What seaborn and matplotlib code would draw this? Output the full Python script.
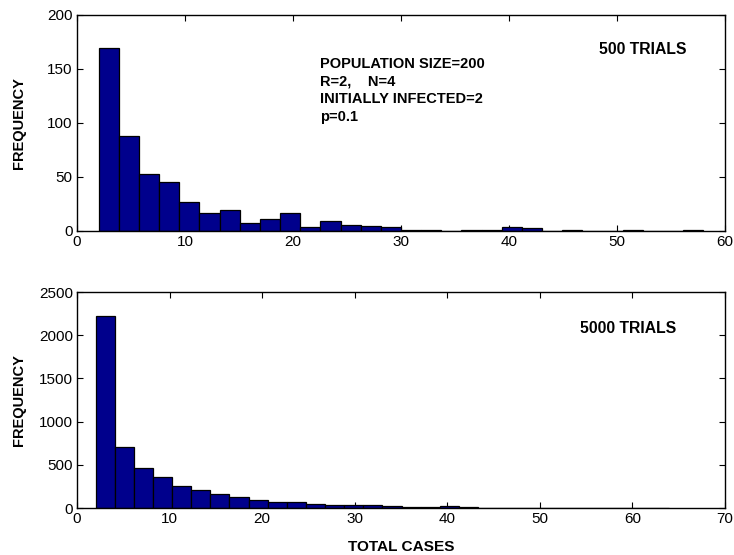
import numpy as np
import pandas as pd
import matplotlib
matplotlib.use("Agg")
import matplotlib.pyplot as plt
import seaborn as sns

# ---- data ----
top_counts = [169, 88, 53, 45, 27, 17, 19, 7, 11, 17, 4, 9, 6, 5, 4,
              1, 1, 0, 1, 1, 4, 3, 0, 1, 0, 0, 1, 0, 0, 1]
top_min_cases = 2
top_max_cases = 58

bottom_counts = [2226, 703, 460, 355, 251, 205, 158, 131, 97, 66, 64, 46, 38, 38, 40,
                 20, 8, 8, 20, 6, 3, 2, 1, 1, 1, 0, 1, 0, 0, 1]
bottom_min_cases = 2
bottom_max_cases = 64

top_xticks = [0, 10, 20, 30, 40, 50, 60]
top_yticks = [0, 50, 100, 150, 200]
bottom_xticks = [0, 10, 20, 30, 40, 50, 60, 70]
bottom_yticks = [0, 500, 1000, 1500, 2000, 2500]

top_label = "500 TRIALS"
bottom_label = "5000 TRIALS"
params_text = "POPULATION SIZE=200\nR=2,    N=4\nINITIALLY INFECTED=2\np=0.1"
ylabel = "FREQUENCY"
xlabel = "TOTAL CASES"

sns.set_style("ticks")
plt.rcParams["font.family"] = ["Liberation Sans", "DejaVu Sans"]
plt.rcParams["text.color"] = "black"
plt.rcParams["axes.labelcolor"] = "black"

BAR = "#00008C"

fig = plt.figure(figsize=(7.34, 5.55), dpi=100)
ax1 = fig.add_axes([77 / 734, 1 - 231 / 555, 648 / 734, 216 / 555])
ax2 = fig.add_axes([77 / 734, 1 - 508 / 555, 648 / 734, 216 / 555])


def draw(ax, counts, lo, hi, xticks, yticks):
    n = len(counts)
    edges = np.linspace(lo, hi, n + 1)
    centers = (edges[:-1] + edges[1:]) / 2
    df = pd.DataFrame({"cases": centers, "count": np.asarray(counts, dtype=float)})
    sns.histplot(data=df, x="cases", weights="count", bins=n, binrange=(lo, hi), ax=ax,
                 color=BAR, edgecolor="black", linewidth=0.9, alpha=1.0)
    ax.set_xlim(xticks[0], xticks[-1])
    ax.set_ylim(yticks[0], yticks[-1])
    ax.set_xticks(xticks)
    ax.set_yticks(yticks)
    ax.tick_params(direction="in", length=4, width=0.8, top=True, right=True,
                   labelsize=11, colors="black", labelcolor="black", pad=3)
    for s in ax.spines.values():
        s.set_visible(True)
        s.set_linewidth(1.0)
        s.set_color("black")
    ax.set_xlabel("")
    ax.set_ylabel(ylabel, fontsize=10.5, fontweight="bold", color="black")
    ax.yaxis.set_label_coords(-0.079, 0.5)


draw(ax1, top_counts, top_min_cases, top_max_cases, top_xticks, top_yticks)
draw(ax2, bottom_counts, bottom_min_cases, bottom_max_cases, bottom_xticks, bottom_yticks)

ax1.text(48.3, 167.6, top_label, fontsize=11.3, fontweight="bold", ha="left", va="center",
         color="black")
ax1.text(22.5, 161, params_text, fontsize=10.5, fontweight="bold", ha="left", va="top",
         linespacing=1.32, color="black")
ax2.text(54.3, 2074, bottom_label, fontsize=11.3, fontweight="bold", ha="left", va="center",
         color="black")
ax2.set_xlabel(xlabel, fontsize=11.1, fontweight="bold", labelpad=10, color="black")

fig.savefig("out.png", dpi=100)
